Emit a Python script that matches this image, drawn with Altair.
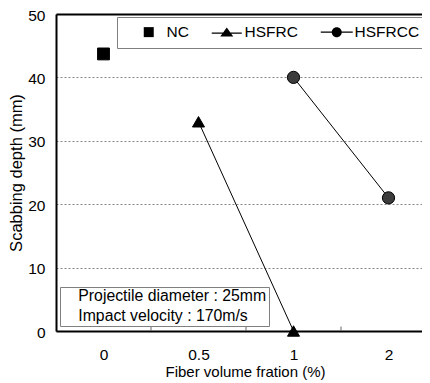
import altair as alt
import pandas as pd

# ---- data ----
fractions = ["0", "0.5", "1", "2"]
series_names = ["NC", "HSFRC", "HSFRCC"]
nc_frac = ["0"]
nc_depth = [43.7]
hsfrc_frac = ["0.5", "1"]
hsfrc_depth = [33.0, 0.0]
hsfrcc_frac = ["1", "2"]
hsfrcc_depth = [40.0, 21.0]
note_lines = ["Projectile diameter : 25mm", "Impact velocity : 170m/s"]
y_ticks = [0, 10, 20, 30, 40, 50]

rows = []
for name, fr, de in zip(series_names, [nc_frac, hsfrc_frac, hsfrcc_frac],
                        [nc_depth, hsfrc_depth, hsfrcc_depth]):
    for f, d in zip(fr, de):
        rows.append({"frac": f, "depth": d, "series": name})
df = pd.DataFrame(rows)

# category slots: index of each category, boundaries between neighbouring slots
cat_index = list(range(len(fractions)))
boundary_pos = [i + 0.5 for i in cat_index[:-1]]

FONT = "Liberation Sans"
YTITLE = "Scabbing depth (mm)"
cats_js = "[" + ",".join("'%s'" % c for c in fractions) + "]"
pos_expr = "indexof(%s, datum.frac)" % cats_js
label_expr = "%s[datum.value]" % cats_js

# plot area runs past the right edge of the picture, as in the reference
xscale = alt.Scale(domain=[-0.5, 3.3526], nice=False, zero=False)
yscale = alt.Scale(domain=[0, 50], nice=False)

# legend symbol paths (unit box, scaled by symbol size); thin filled bars = line
sq_path = "M-1,-1H1V1H-1Z"
tri_path = ("M-3.0,0.09H3.0V0.31H-3.0Z"
            "M0,-0.95L1.3,0.85L-1.3,0.85Z")
circ_path = ("M-3.2,-0.11H-0.9V0.11H-3.2Z"
             "M0.9,-0.11H3.2V0.11H0.9Z"
             "M-1,0A1,1 0 1,1 1,0A1,1 0 1,1 -1,0Z")

base = alt.Chart(df).transform_calculate(pos=pos_expr)

lines = base.transform_filter("datum.series != 'NC'").mark_line(
    color="black", strokeWidth=1
).encode(
    x=alt.X("pos:Q", scale=xscale,
            axis=alt.Axis(orient="top", labels=False, ticks=False, grid=False,
                          title=None, domain=True, domainColor="black",
                          domainWidth=2)),
    y=alt.Y("depth:Q", scale=yscale, title=YTITLE),
    detail="series:N",
)

ticks_layer = alt.Chart(pd.DataFrame({"pos": boundary_pos})).mark_rule(
    color="#666666", strokeWidth=1
).encode(
    x=alt.X("pos:Q", scale=xscale, axis=None),
    y=alt.Y(datum=0, scale=yscale, title=YTITLE),
    y2=alt.Y2(datum=0.7),
)

points = base.mark_point(filled=True, opacity=1, stroke="black",
                         strokeWidth=1).encode(
    x=alt.X("pos:Q", scale=xscale,
            title="Fiber volume fration (%)",
            axis=alt.Axis(orient="bottom", values=cat_index,
                          labelExpr=label_expr, ticks=False, domain=True,
                          domainColor="black", domainWidth=2, grid=False,
                          labelAngle=0, labelFontSize=15.5, labelPadding=16,
                          labelColor="black", labelFont=FONT,
                          titleFontSize=15, titlePadding=2, titleColor="black",
                          titleFont=FONT, titleFontWeight="normal",
                          titleAnchor="middle", titleX=189)),
    y=alt.Y("depth:Q", scale=yscale, title=YTITLE,
            axis=alt.Axis(values=y_ticks, ticks=False, domain=True,
                          domainColor="black", domainWidth=2, grid=True,
                          gridColor="#888888", gridDash=[2, 2], gridWidth=1,
                          labelFontSize=15.5, labelPadding=11, labelOffset=1,
                          labelColor="black", labelFont=FONT,
                          titleFontSize=16.5, titlePadding=3,
                          titleColor="black", titleFont=FONT,
                          titleFontWeight="normal")),
    shape=alt.Shape("series:N", scale=alt.Scale(domain=series_names,
                    range=["square", "triangle-up", "circle"]), legend=None),
    fill=alt.Fill("series:N", scale=alt.Scale(domain=series_names,
                  range=["black", "black", "#3c3c3c"]), legend=None),
    size=alt.Size("series:N", scale=alt.Scale(domain=series_names,
                  range=[140, 150, 120]), legend=None),
)

legend_layer = alt.Chart(df).transform_filter("false").mark_point(
    filled=True, fill="black", stroke="black", strokeWidth=1
).encode(
    shape=alt.Shape("series:N", scale=alt.Scale(domain=series_names,
                    range=[sq_path, tri_path, circ_path]),
                    legend=alt.Legend(
                        title=" ", titleOrient="left", titlePadding=17,
                        titleFontSize=16, orient="none", legendX=61,
                        legendY=3, direction="horizontal", padding=7,
                        strokeColor="#808080", fillColor="white",
                        symbolSize=100, symbolFillColor="black",
                        symbolStrokeColor="black", symbolStrokeWidth=1,
                        symbolOpacity=1, labelFont=FONT, labelFontSize=15.5,
                        labelColor="black", labelOffset=10,
                        columnPadding=20)),
)

note_layer = alt.Chart(pd.DataFrame({"note": note_lines})).transform_filter(
    "false"
).mark_point().encode(
    strokeDash=alt.StrokeDash("note:N", scale=alt.Scale(domain=note_lines),
                              legend=alt.Legend(
                                  title=" ", titleOrient="right",
                                  titlePadding=2, titleFontSize=16,
                                  orient="none", legendX=4,
                                  legendY=273, direction="vertical",
                                  padding=1, strokeColor="#808080",
                                  fillColor="white", symbolSize=1,
                                  symbolOpacity=0, symbolStrokeWidth=0.01,
                                  labelOffset=1.5, labelFont=FONT,
                                  labelFontSize=15.8, rowPadding=3.5,
                                  labelLimit=400, labelColor="black")),
)

chart = alt.layer(lines, ticks_layer, points, legend_layer, note_layer).resolve_scale(
    shape="independent"
).resolve_axis(x="independent").properties(
    width=366, height=317,
    padding={"left": 48, "top": 6, "right": 0, "bottom": 50},
    autosize=alt.AutoSizeParams(type="none"),
).configure_view(stroke=None).configure(font=FONT)

chart.save("out.html", embed_options={"renderer": "svg", "actions": False})
